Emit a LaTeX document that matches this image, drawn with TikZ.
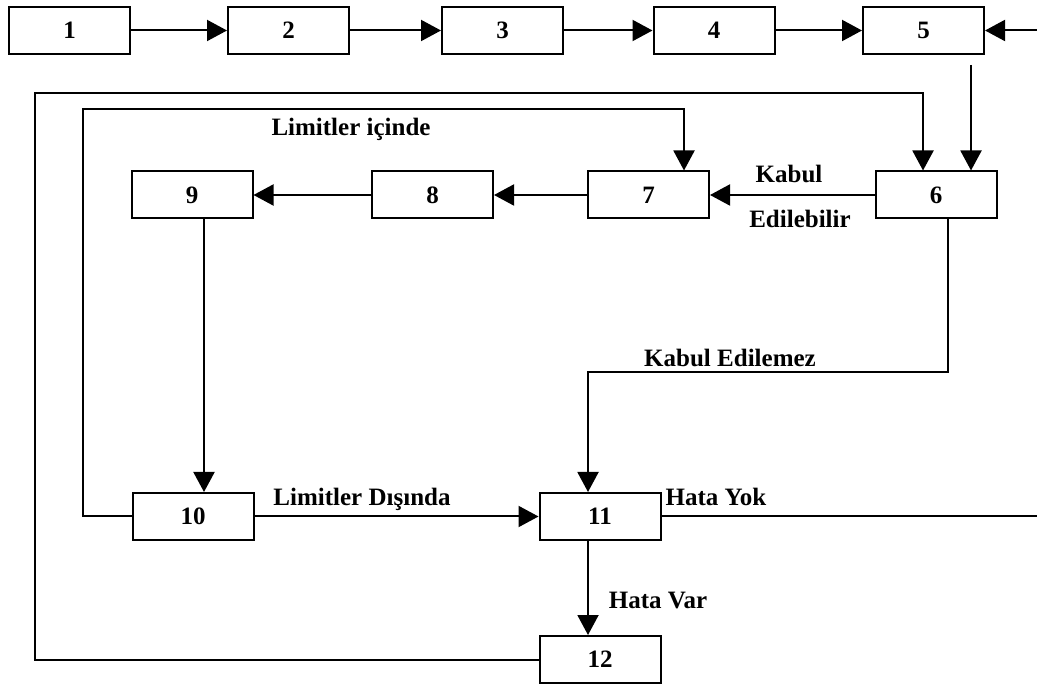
\documentclass[tikz,border=0pt]{standalone}
\usepackage{fontspec}
\setmainfont{Liberation Serif}
\usetikzlibrary{arrows.meta}
\begin{document}
\begin{tikzpicture}[x=0.5pt,y=-0.5pt,
  box/.style={draw, line width=1pt, minimum width=60.5pt, minimum height=23.5pt, inner sep=0pt, font=\fontsize{12.5}{14}\selectfont\bfseries},
  lbl/.style={anchor=base, inner sep=0pt, font=\fontsize{12.5}{14}\selectfont\bfseries},
  conn/.style={line width=1pt},
  arr/.style={conn, -{Triangle[length=10pt,width=10.5pt]}}]
\useasboundingbox (0,0) rectangle (1037,688);
% boxes
\node[box] (n1) at (69.5,30.5) {1};
\node[box] (n2) at (288.5,30.5) {2};
\node[box] (n3) at (502.5,30.5) {3};
\node[box] (n4) at (714,30.5) {4};
\node[box] (n5) at (923.5,30.5) {5};
\node[box] (n6) at (936,195) {6};
\node[box] (n7) at (648.5,195) {7};
\node[box] (n8) at (432.5,195) {8};
\node[box] (n9) at (192,195) {9};
\node[box] (n10) at (193,516.5) {10};
\node[box] (n11) at (600,516.5) {11};
\node[box] (n12) at (600,659.5) {12};
% labels
\node[lbl] (t1) at (351,136) {Limitler içinde};
\node[lbl] (t2) at (789,183) {Kabul};
\node[lbl] (t3) at (800,228) {Edilebilir};
\node[lbl] (t4) at (730,367) {Kabul Edilemez};
\node[lbl] (t5) at (362,506) {Limitler Dışında};
\node[lbl] (t6) at (716,506) {Hata Yok};
\node[lbl] (t7) at (658,608) {Hata Var};
% helper coordinates
\coordinate (redge5) at (1037,30.5);
\coordinate (redge11) at (1037,516.5);
\coordinate (s5) at (971,65);
\coordinate (c9) at (204,0);
\coordinate (l1) at (83,109);
\coordinate (l2) at (684,109);
\coordinate (o1) at (35,93);
\coordinate (o2) at (923,93);
\coordinate (k1) at (948,372);
\coordinate (k2) at (588,372);
% top row
\draw[arr] (n1) -- (n2);
\draw[arr] (n2) -- (n3);
\draw[arr] (n3) -- (n4);
\draw[arr] (n4) -- (n5);
\draw[arr] (redge5) -- (n5);
\draw[arr] (s5) -- (s5 |- n6.north);
% middle row
\draw[arr] (n6) -- (n7);
\draw[arr] (n7) -- (n8);
\draw[arr] (n8) -- (n9);
\draw[arr] (n9.south -| c9) -- (n10.north -| c9);
% loops
\draw[arr] (n10.west) -| (l1) -| (l2 |- n7.north);
\draw[arr] (n12.west) -| (o1) -| (o2 |- n6.north);
\draw[arr] (n6.south -| k1) |- (k2) -- (k2 |- n11.north);
\draw[arr] (n10) -- (n11);
\draw[arr] (n11.south -| k2) -- (n12.north -| k2);
\draw[conn] (n11) -- (redge11);
\end{tikzpicture}
\end{document}
